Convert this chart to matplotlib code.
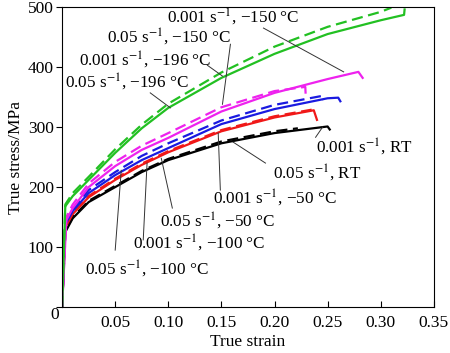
import matplotlib
matplotlib.use("Agg")
import matplotlib.pyplot as plt

plt.rcParams['font.family'] = ['Liberation Serif', 'DejaVu Serif']
plt.rcParams['mathtext.fontset'] = 'stix'

# curves: (strain, stress in MPa)
# solid = 0.05 s^-1, dashed = 0.001 s^-1
g_sol_x = [0, 0.003, 0.01, 0.025, 0.05, 0.075, 0.10, 0.15, 0.20, 0.25, 0.30, 0.322, 0.3225]
g_sol_y = [0, 168, 185, 212, 257, 298, 332, 382, 422, 455, 478, 487, 496]
g_das_x = [0, 0.003, 0.01, 0.025, 0.05, 0.075, 0.10, 0.15, 0.20, 0.25, 0.30, 0.31]
g_das_y = [0, 171, 190, 217, 263, 304, 339, 391, 434, 467, 492, 499]

m_sol_x = [0, 0.004, 0.01, 0.025, 0.05, 0.075, 0.10, 0.15, 0.20, 0.25, 0.279, 0.283]
m_sol_y = [0, 145, 165, 200, 235, 262, 282, 326, 357, 380, 392, 382]
m_das_x = [0, 0.004, 0.01, 0.025, 0.05, 0.075, 0.10, 0.15, 0.20, 0.229, 0.2295]
m_das_y = [0, 150, 171, 206, 242, 269, 290, 333, 360, 367, 348]

b_sol_x = [0, 0.003, 0.01, 0.025, 0.05, 0.075, 0.10, 0.15, 0.20, 0.25, 0.26, 0.262]
b_sol_y = [0, 138, 160, 190, 220, 245, 265, 305, 330, 348, 349, 343]
b_das_x = [0, 0.003, 0.01, 0.025, 0.05, 0.075, 0.10, 0.15, 0.20, 0.245, 0.246]
b_das_y = [0, 142, 164, 195, 225, 252, 273, 311, 337, 352, 345]

r_sol_x = [0, 0.003, 0.01, 0.025, 0.05, 0.075, 0.10, 0.15, 0.20, 0.237, 0.240]
r_sol_y = [0, 133, 155, 183, 212, 237, 258, 293, 316, 328, 312]
r_das_x = [0, 0.003, 0.01, 0.025, 0.05, 0.075, 0.10, 0.15, 0.20, 0.235]
r_das_y = [0, 135, 157, 185, 214, 239, 260, 295, 318, 329]

k_sol_x = [0, 0.003, 0.01, 0.025, 0.05, 0.075, 0.10, 0.15, 0.20, 0.25, 0.252]
k_sol_y = [0, 125, 148, 175, 200, 225, 245, 273, 290, 301, 296]
k_das_x = [0, 0.003, 0.01, 0.025, 0.05, 0.075, 0.10, 0.15, 0.20, 0.222]
k_das_y = [0, 127, 150, 177, 202, 227, 247, 276, 293, 298]

# labels: text, text position, leader start, leader end
labels = [
    (r"0.001 s$^{-1}$, −150 °C", (0.099, 485), (0.1896, 465), (0.2651, 392)),
    (r"0.05 s$^{-1}$, −150 °C", (0.0425, 451), (0.1585, 438), (0.151, 338)),
    (r"0.001 s$^{-1}$, −196 °C", (0.016, 413), (0.1368, 403), (0.151, 385)),
    (r"0.05 s$^{-1}$, −196 °C", (0.003, 376), (0.083, 357), (0.102, 332)),
    (r"0.001 s$^{-1}$, RT", (0.2387, 267), (0.2387, 283), (0.2453, 300)),
    (r"0.05 s$^{-1}$, RT", (0.199, 225), (0.1915, 240), (0.161, 275)),
    (r"0.001 s$^{-1}$, −50 °C", (0.1425, 183), (0.149, 195), (0.147, 290)),
    (r"0.05 s$^{-1}$, −50 °C", (0.0925, 145), (0.1038, 165), (0.0934, 248)),
    (r"0.001 s$^{-1}$, −100 °C", (0.067, 107), (0.0764, 112), (0.080, 240)),
    (r"0.05 s$^{-1}$, −100 °C", (0.0217, 65), (0.05, 95), (0.0557, 228)),
]

fig = plt.figure(figsize=(4.5, 3.53), dpi=100)
ax = fig.add_axes([0.138, 0.130, 0.826, 0.850])

green, magenta, blue, red = '#22c022', '#ee22ee', '#1a1ae0', '#f01818'
dash = (0, (5, 2.5))
ax.plot(k_sol_x, k_sol_y, color='k', lw=1.6)
ax.plot(k_das_x, k_das_y, color='k', lw=1.6, ls=dash)
ax.plot(r_sol_x, r_sol_y, color=red, lw=1.6)
ax.plot(r_das_x, r_das_y, color=red, lw=1.6, ls=dash)
ax.plot(b_sol_x, b_sol_y, color=blue, lw=1.6)
ax.plot(b_das_x, b_das_y, color=blue, lw=1.6, ls=dash)
ax.plot(m_sol_x, m_sol_y, color=magenta, lw=1.6)
ax.plot(m_das_x, m_das_y, color=magenta, lw=1.6, ls=dash)
ax.plot(g_sol_x, g_sol_y, color=green, lw=1.6)
ax.plot(g_das_x, g_das_y, color=green, lw=1.6, ls=dash)

for txt, pos, p0, p1 in labels:
    ax.text(pos[0], pos[1], txt, fontsize=12.3, ha='left', va='center')
    ax.plot([p0[0], p1[0]], [p0[1], p1[1]], color='#333333', lw=0.7)

ax.set_xlim(0, 0.35)
ax.set_ylim(0, 500)
ax.set_xticks([0.05, 0.10, 0.15, 0.20, 0.25, 0.30, 0.35])
ax.set_xticklabels(['0.05', '0.10', '0.15', '0.20', '0.25', '0.30', '0.35'])
ax.set_yticks([0, 100, 200, 300, 400, 500])
ax.set_yticklabels(['', '100', '200', '300', '400', '500'])
ax.tick_params(axis='x', direction='in', length=4, labelsize=12.5, pad=6)
ax.tick_params(axis='y', direction='out', length=4, labelsize=12.5, pad=2)
ax.annotate('0', xy=(0, 0), xytext=(-7, -8), textcoords='offset pixels',
            ha='center', va='center', fontsize=12.5)
ax.set_xlabel('True strain', fontsize=12.5, labelpad=2)
ax.set_ylabel('True stress/MPa', fontsize=12.5, labelpad=3)

fig.savefig('out.png', dpi=100)
